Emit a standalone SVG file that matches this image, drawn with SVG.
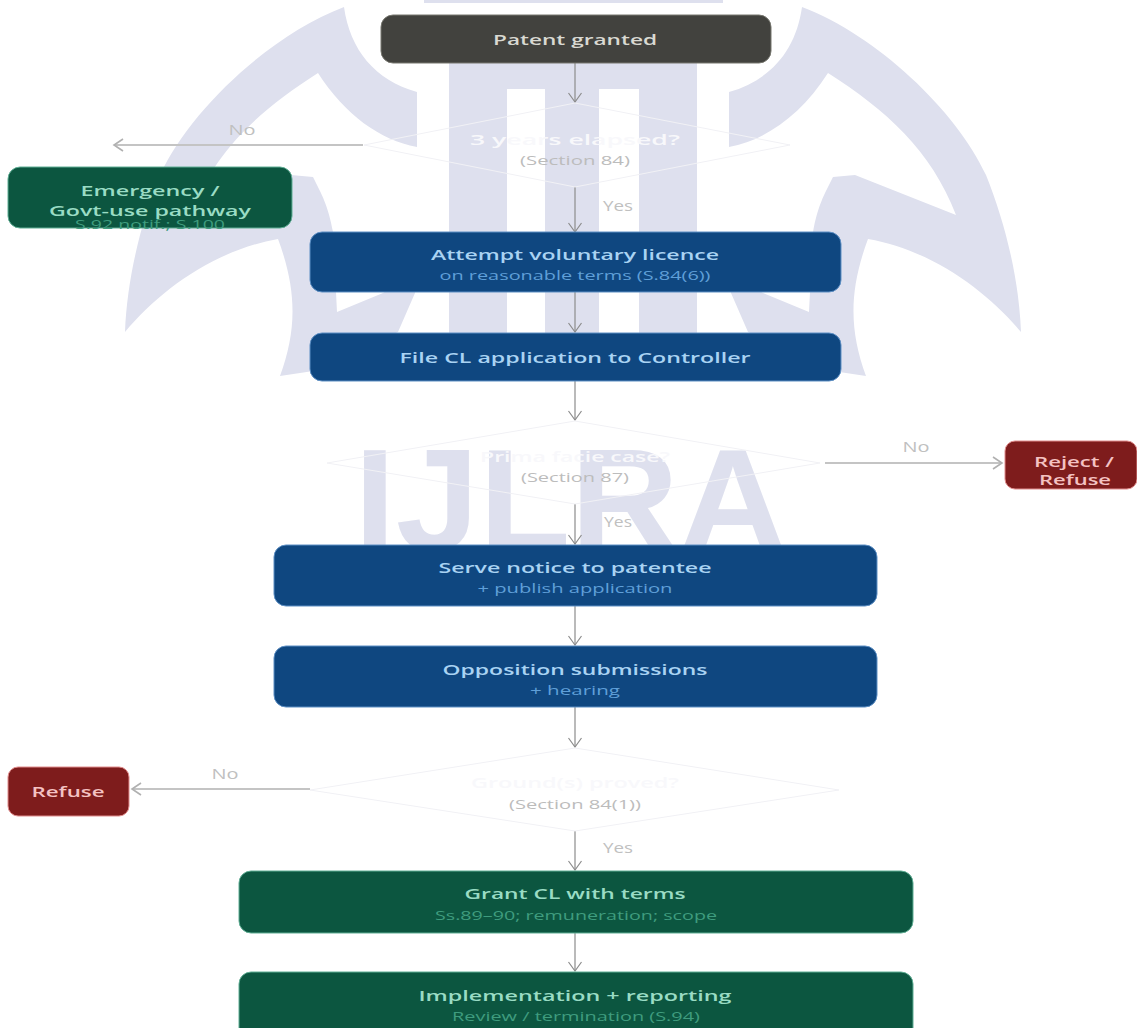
<svg xmlns="http://www.w3.org/2000/svg" xmlns:xlink="http://www.w3.org/1999/xlink" width="1137" height="1028" viewBox="0 0 1137 1028">
<style>
text{font-family:"Open Sans","Noto Sans","Liberation Sans",sans-serif;text-anchor:middle}
.wm{fill:#dee0ee}
.box{stroke-width:1}
.t{font-size:15px;font-weight:600}
.s{font-size:13px}
.dark{fill:#42423e;stroke:#77776f}
.blue{fill:#0f4780;stroke:#5d8fc4}
.green{fill:#0c5640;stroke:#5fae94}
.red{fill:#7e1c1c;stroke:#e08c8c}
.bt{fill:#a9d3f3}.bs{fill:#5f9fd8}
.gt{fill:#9adcc4}.gs{fill:#3f9c7e}
.rt{fill:#f4c2c2}
.dia{fill:none;stroke:#f1f1f5;stroke-width:1}
.dt{fill:#f8f8fb;font-size:14px;font-weight:600}
.ds{fill:#bcbcbc;font-size:13px}
.lbl{fill:#c0c0c0;font-size:14px}
.c{fill:none;stroke:#8c8c8c;stroke-width:1.2;marker-end:url(#a)}
.n{fill:none;stroke:#c4c4c4;stroke-width:2;marker-end:url(#b)}
</style>
<defs>
<marker id="a" markerUnits="userSpaceOnUse" markerWidth="20" markerHeight="20" refX="14" refY="10" orient="auto"><path d="M5,3.500L14,10L5,16.500" fill="none" stroke="#8c8c8c" stroke-width="1.200"/></marker>
<marker id="b" markerUnits="userSpaceOnUse" markerWidth="20" markerHeight="20" refX="14" refY="10" orient="auto"><path d="M5,4L14,10L5,16" fill="none" stroke="#b0b0b0" stroke-width="1.600"/></marker>
<path id="wing" d="M344,7C270,35 190,110 160,175C140,225 127,280 125,332C160,290 215,250 278,239C297,290 297,330 280,376L320,370L398,332L415,293L415,275L383,293L337,312L333,232C328,205 322,195 313,177L291,175L190,215C215,150 260,110 318,73C345,115 380,140 417,147L417,92C375,80 350,50 344,7Z"/>
</defs>
<rect width="1137" height="1028" fill="#fff"/>
<g id="watermark" class="wm">
<rect x="424" y="0" width="299" height="3"/>
<path d="M449,20H697V340H639V89H599V340H545V89H507V340H449Z"/>
<use xlink:href="#wing" href="#wing"/>
<use xlink:href="#wing" href="#wing" transform="translate(1146) scale(-1,1)"/>
<text x="354" y="550" style="font-family:'Liberation Sans',Arial,sans-serif;font-weight:700;font-size:144px;text-anchor:start" class="wm" textLength="433" lengthAdjust="spacingAndGlyphs">IJLRA</text>
</g>
<g id="connectors">
<path class="c" d="M575,63V102"/>
<path class="c" d="M575,187V232"/>
<path class="c" d="M575,292V332"/>
<path class="c" d="M575,381V420"/>
<path class="c" d="M575,504V544"/>
<path class="c" d="M575,606V645"/>
<path class="c" d="M575,707V747"/>
<path class="c" d="M575,831V870"/>
<path class="c" d="M575,933V971"/>
<path class="n" d="M363,145H114"/>
<path class="n" d="M825,463H1002"/>
<path class="n" d="M310,789H132"/>
<text class="lbl" x="242" y="135" textLength="27" lengthAdjust="spacingAndGlyphs">No</text>
<text class="lbl" x="618" y="211" textLength="30" lengthAdjust="spacingAndGlyphs">Yes</text>
<text class="lbl" x="916" y="452" textLength="27" lengthAdjust="spacingAndGlyphs">No</text>
<text class="lbl" x="618" y="527" textLength="28" lengthAdjust="spacingAndGlyphs">Yes</text>
<text class="lbl" x="225" y="779" textLength="27" lengthAdjust="spacingAndGlyphs">No</text>
<text class="lbl" x="618" y="853" textLength="30" lengthAdjust="spacingAndGlyphs">Yes</text>
</g>
<g id="patent-granted"><rect class="box dark" x="381" y="15" width="390" height="48" rx="12"/><text class="t" x="575" y="45" style="fill:#d9d9d2" textLength="164" lengthAdjust="spacingAndGlyphs">Patent granted</text></g>
<g id="d-years"><path class="dia" d="M575,103L790,145L575,187L364,145Z"/><text class="dt" x="575" y="145" textLength="210" lengthAdjust="spacingAndGlyphs">3 years elapsed?</text><text class="ds" x="575" y="165" textLength="110" lengthAdjust="spacingAndGlyphs">(Section 84)</text></g>
<g id="emergency"><rect class="box green" x="8" y="167" width="284" height="61" rx="12"/><text class="t gt" x="150" y="196" textLength="139" lengthAdjust="spacingAndGlyphs">Emergency /</text><text class="t gt" x="150" y="216" textLength="202" lengthAdjust="spacingAndGlyphs">Govt-use pathway</text><text class="s gs" x="150" y="229" textLength="150" lengthAdjust="spacingAndGlyphs">S.92 notif.; S.100</text></g>
<g id="attempt"><rect class="box blue" x="310" y="232" width="531" height="60" rx="12"/><text class="t bt" x="575" y="260" textLength="288" lengthAdjust="spacingAndGlyphs">Attempt voluntary licence</text><text class="s bs" x="575" y="280" textLength="271" lengthAdjust="spacingAndGlyphs">on reasonable terms (S.84(6))</text></g>
<g id="file-cl"><rect class="box blue" x="310" y="333" width="531" height="48" rx="12"/><text class="t bt" x="575" y="363" textLength="351" lengthAdjust="spacingAndGlyphs">File CL application to Controller</text></g>
<g id="d-prima"><path class="dia" d="M575,421L820,463L575,504L327,463Z"/><text class="dt" x="575" y="462" textLength="190" lengthAdjust="spacingAndGlyphs">Prima facie case?</text><text class="ds" x="575" y="482" textLength="108" lengthAdjust="spacingAndGlyphs">(Section 87)</text></g>
<g id="reject"><rect class="box red" x="1005" y="441" width="132" height="48" rx="10"/><text class="t rt" x="1074" y="467" textLength="80" lengthAdjust="spacingAndGlyphs">Reject /</text><text class="t rt" x="1075" y="485" textLength="72" lengthAdjust="spacingAndGlyphs">Refuse</text></g>
<g id="serve"><rect class="box blue" x="274" y="545" width="603" height="61" rx="12"/><text class="t bt" x="575" y="573" textLength="273" lengthAdjust="spacingAndGlyphs">Serve notice to patentee</text><text class="s bs" x="575" y="593" textLength="195" lengthAdjust="spacingAndGlyphs">+ publish application</text></g>
<g id="opposition"><rect class="box blue" x="274" y="646" width="603" height="61" rx="12"/><text class="t bt" x="575" y="675" textLength="265" lengthAdjust="spacingAndGlyphs">Opposition submissions</text><text class="s bs" x="575" y="695" textLength="90" lengthAdjust="spacingAndGlyphs">+ hearing</text></g>
<g id="d-grounds"><path class="dia" d="M575,748L839,790L575,831L310,790Z"/><text class="dt" x="575" y="788" textLength="208" lengthAdjust="spacingAndGlyphs">Ground(s) proved?</text><text class="ds" x="575" y="809" textLength="132" lengthAdjust="spacingAndGlyphs">(Section 84(1))</text></g>
<g id="refuse"><rect class="box red" x="8" y="767" width="121" height="49" rx="10"/><text class="t rt" x="68" y="797" textLength="73" lengthAdjust="spacingAndGlyphs">Refuse</text></g>
<g id="grant"><rect class="box green" x="239" y="871" width="674" height="62" rx="12"/><text class="t gt" x="575" y="899" textLength="221" lengthAdjust="spacingAndGlyphs">Grant CL with terms</text><text class="s gs" x="576" y="920" textLength="282" lengthAdjust="spacingAndGlyphs">Ss.89–90; remuneration; scope</text></g>
<g id="implementation"><rect class="box green" x="239" y="972" width="674" height="70" rx="12"/><text class="t gt" x="575" y="1001" textLength="313" lengthAdjust="spacingAndGlyphs">Implementation + reporting</text><text class="s gs" x="576" y="1021" textLength="248" lengthAdjust="spacingAndGlyphs">Review / termination (S.94)</text></g>
</svg>
